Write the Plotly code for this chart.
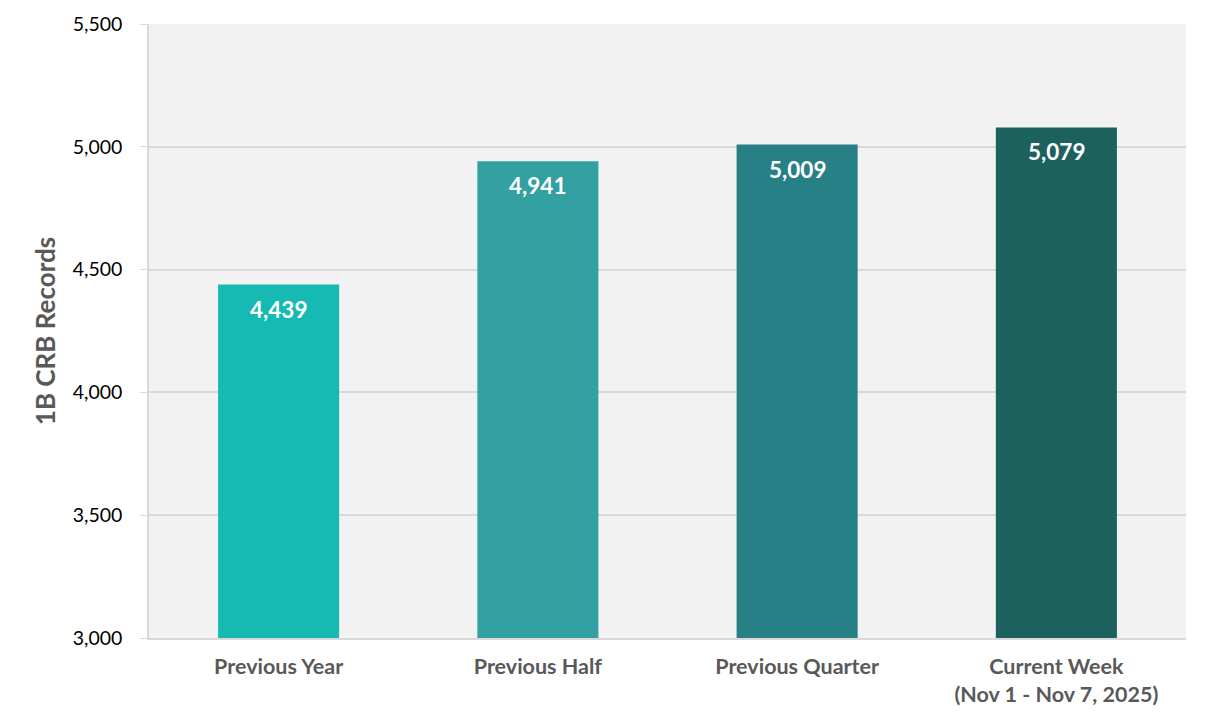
import plotly.graph_objects as go

categories = ["Previous Year", "Previous Half", "Previous Quarter", "Current Week<br>(Nov 1 - Nov 7, 2025)"]
values = [4439, 4941, 5009, 5079]
colors = ["#17BAB3", "#33A0A2", "#278085", "#1D615F"]
y_ticks = [3000, 3500, 4000, 4500, 5000, 5500]

FONT = "Lato, Carlito, Calibri, sans-serif"

fig = go.Figure()
fig.add_trace(go.Bar(
    x=categories, y=values, marker=dict(color=colors, line=dict(width=0)),
    width=0.467, hoverinfo="skip",
))
for c, v in zip(categories, values):
    fig.add_annotation(
        x=c, y=v, text=f"<b>{v:,}</b>", showarrow=False,
        yanchor="top", yshift=-9,
        font=dict(family=FONT, size=22.5, color="white"),
    )

fig.update_layout(
    width=1210, height=722,
    margin=dict(l=141, r=32, t=16, b=92),
    paper_bgcolor="white", plot_bgcolor="#F2F2F2",
    showlegend=False,
    font=dict(family=FONT),
)
fig.update_yaxes(
    range=[3000, 5500], tickvals=y_ticks, ticktext=[f"{t:,}" for t in y_ticks],
    showgrid=True, gridcolor="#D9D9D9", gridwidth=1.5,
    ticks="outside", ticklen=7, tickcolor="#D9D9D9",
    tickfont=dict(family=FONT, size=19.5, color="black"),
    ticklabelstandoff=14,
    showline=True, linecolor="#D9D9D9", linewidth=1.5,
    zeroline=False, automargin=False,
    title=dict(text="<b>1B CRB Records</b>", font=dict(family=FONT, size=26, color="#595959"), standoff=10),
)
fig.update_xaxes(
    showline=True, linecolor="#D9D9D9", linewidth=2,
    tickfont=dict(family=FONT, size=21.5, color="#595959"),
    ticks="", ticklabelstandoff=8, automargin=False,
)
fig.update_xaxes(ticktext=[f"<b>{c}</b>" for c in categories], tickvals=categories)

fig.write_html("out.html")
